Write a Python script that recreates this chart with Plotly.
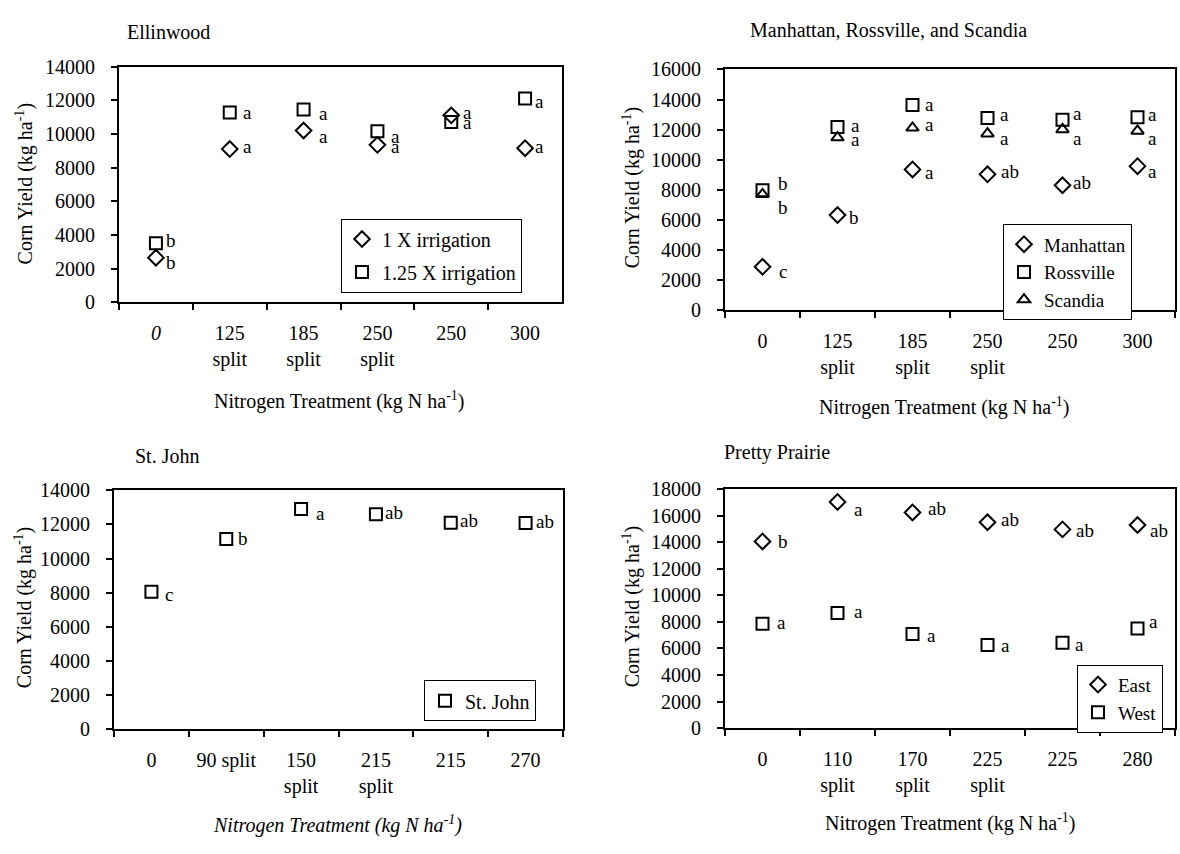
import plotly.graph_objects as go

FONT = "Liberation Serif"
W, H = 1180, 854

# ---------------- data ----------------
# Ellinwood
ell_cats = ["<i>0</i>", "125<br>split", "185<br>split", "250<br>split", "250", "300"]
ell_1x = [2650, 9100, 10200, 9350, 11100, 9150]
ell_125x = [3500, 11270, 11450, 10150, 10700, 12100]
ell_1x_lbl = ["b", "a", "a", "a", "a", "a"]
ell_125x_lbl = ["b", "a", "a", "a", "a", "a"]

# Manhattan, Rossville, Scandia
mrs_cats = ["0", "125<br>split", "185<br>split", "250<br>split", "250", "300"]
manhattan = [2880, 6320, 9350, 9030, 8300, 9570]
rossville = [7970, 12170, 13640, 12770, 12660, 12820]
scandia = [7700, 11470, 12120, 11730, 12010, 11910]
manhattan_lbl = ["c", "b", "a", "ab", "ab", "a"]
rossville_lbl = ["b", "a", "a", "a", "a", "a"]
scandia_lbl = ["b", "a", "a", "a", "a", "a"]

# St. John
sj_cats = ["0", "90 split", "150<br>split", "215<br>split", "215", "270"]
stjohn = [8050, 11150, 12900, 12600, 12100, 12080]
stjohn_lbl = ["c", "b", "a", "ab", "ab", "ab"]

# Pretty Prairie
pp_cats = ["0", "110<br>split", "170<br>split", "225<br>split", "225", "280"]
east = [14070, 17050, 16260, 15520, 14980, 15310]
west = [7870, 8680, 7090, 6260, 6440, 7510]
east_lbl = ["b", "a", "ab", "ab", "ab", "ab"]
west_lbl = ["a", "a", "a", "a", "a", "a"]

# ---------------- label offsets (px, dy positive = down) ----------------
ell_1x_off = [(15, 5), (18, -3), (20, 6), (18, 2), (16, -3), (14, -2)]
ell_125x_off = [(15, -3), (18, 0), (20, 4), (18, 5), (16, 0), (14, 3)]
man_off = [(20, 5), (16, 2), (17, 3), (22, -3), (19, -3), (15, 5)]
ros_off = [(20, -7), (18, -2), (17, 0), (17, -4), (15, -6), (15, -3)]
sca_off = [(20, 13), (18, 2), (17, -3), (17, 5), (15, 9), (15, 8)]
sj_off = [(18, 3), (17, 0), (19, 4), (18, -2), (18, -2), (19, -2)]
east_off = [(20, 0), (21, 8), (24, -4), (22, -3), (22, 1), (21, 5)]
west_off = [(19, -1), (21, -1), (19, 1), (18, 0), (17, 2), (16, -7)]

# ---------------- panel geometry (pixels) ----------------
# (left, right, top, bottom)
panels = {
    1: (119, 562, 57, 299),
    2: (725, 1175, 60, 307),
    3: (114, 563, 492, 737),
    4: (725, 1175, 491, 736),
}
yranges = {1: 14000, 2: 16000, 3: 14000, 4: 18000}


def px_x(p):
    return p / W


def px_y(p):
    return 1 - p / H


fig = go.Figure()


def axes(idx):
    return ("x" if idx == 1 else f"x{idx}", "y" if idx == 1 else f"y{idx}")


def add_series(idx, cats, vals, name, symbol, size, legend, group):
    xa, ya = axes(idx)
    fig.add_trace(go.Scatter(
        x=cats, y=vals, mode="markers", name=name,
        marker=dict(symbol=symbol, size=size, color="black",
                    line=dict(color="black", width=2)),
        xaxis=xa, yaxis=ya,
        legend=legend, legendgroup=group, showlegend=True,
        hoverinfo="x+y",
    ))


def add_labels(idx, vals, lbls, offs):
    xa, ya = axes(idx)
    for i, (v, t, (dx, dy)) in enumerate(zip(vals, lbls, offs)):
        fig.add_annotation(
            x=i, y=v, text=t, showarrow=False, xref=xa, yref=ya,
            xshift=dx, yshift=-dy,
            font=dict(family=FONT, size=19, color="black"),
        )


add_series(1, ell_cats, ell_1x, "1 X irrigation", "diamond-open", 12, "legend", "g1")
add_series(1, ell_cats, ell_125x, "1.25 X irrigation", "square-open", 12, "legend", "g2")
add_labels(1, ell_1x, ell_1x_lbl, ell_1x_off)
add_labels(1, ell_125x, ell_125x_lbl, ell_125x_off)

add_series(2, mrs_cats, manhattan, "Manhattan", "diamond-open", 12, "legend2", "m")
add_series(2, mrs_cats, rossville, "Rossville", "square-open", 12, "legend2", "m")
add_series(2, mrs_cats, scandia, "Scandia", "triangle-up-open", 11, "legend2", "m")
add_labels(2, manhattan, manhattan_lbl, man_off)
add_labels(2, rossville, rossville_lbl, ros_off)
add_labels(2, scandia, scandia_lbl, sca_off)

add_series(3, sj_cats, stjohn, "St. John", "square-open", 12, "legend3", "s")
add_labels(3, stjohn, stjohn_lbl, sj_off)

add_series(4, pp_cats, east, "East", "diamond-open", 12, "legend4", "p")
add_series(4, pp_cats, west, "West", "square-open", 12, "legend4", "p")
add_labels(4, east, east_lbl, east_off)
add_labels(4, west, west_lbl, west_off)

tickfont = dict(family=FONT, size=20, color="black")
cat_lists = {1: ell_cats, 2: mrs_cats, 3: sj_cats, 4: pp_cats}
layout = {}
for i, (l, r, t, b) in panels.items():
    xk = "xaxis" if i == 1 else f"xaxis{i}"
    yk = "yaxis" if i == 1 else f"yaxis{i}"
    layout[xk] = dict(
        domain=[px_x(l), px_x(r)], anchor="y" if i == 1 else f"y{i}",
        type="category", categoryorder="array", categoryarray=cat_lists[i],
        range=[-0.5, 5.5], tickson="boundaries", ticks="outside", ticklen=6,
        tickwidth=1.5, tickcolor="black", showline=True, linewidth=2,
        linecolor="black", mirror=True, showgrid=False, zeroline=False,
        tickfont=tickfont, ticklabelstandoff=12, fixedrange=True,
    )
    layout[yk] = dict(
        domain=[px_y(b), px_y(t)], anchor="x" if i == 1 else f"x{i}",
        range=[0, yranges[i]], dtick=2000, tick0=0, tickformat="d",
        ticks="outside", ticklen=6,
        tickwidth=1.5, tickcolor="black", showline=True, linewidth=2,
        linecolor="black", mirror=True, showgrid=False, zeroline=False,
        tickfont=tickfont, ticklabelstandoff=12, fixedrange=True,
    )

legend_common = dict(
    bgcolor="white", bordercolor="black", borderwidth=1,
    xanchor="left", yanchor="top", itemclick=False, itemdoubleclick=False,
)
lf20 = dict(family=FONT, size=20, color="black")
lf19 = dict(family=FONT, size=19, color="black")
layout["legend"] = dict(x=px_x(341), y=px_y(213), tracegroupgap=4, font=lf20, **legend_common)
layout["legend2"] = dict(x=px_x(1003), y=px_y(219), font=lf19, **legend_common)
layout["legend3"] = dict(x=px_x(424), y=px_y(687), font=lf20, **legend_common)
layout["legend4"] = dict(x=px_x(1077), y=px_y(671), font=lf19, **legend_common)

fig.update_layout(
    width=W, height=H, margin=dict(l=0, r=0, t=0, b=0),
    paper_bgcolor="white", plot_bgcolor="white",
    font=dict(family=FONT, size=20, color="black"),
    **layout,
)

# titles (panel + axis titles)
ytitle = "Corn Yield (kg ha<sup>-1</sup>)"
xtitle = "Nitrogen Treatment (kg N ha<sup>-1</sup>)"
texts = [
    ("Ellinwood", 168, 22, 0),
    ("Manhattan, Rossville, and Scandia", 888, 20, 0),
    ("St. John", 167, 457, 0),
    ("Pretty Prairie", 777, 453, 0),
    (ytitle, 24, 178, -90),
    (ytitle, 631, 182, -90),
    (ytitle, 23, 613, -90),
    (ytitle, 631, 612, -90),
    (xtitle, 339, 400, 0),
    (xtitle, 944, 406, 0),
    ("<i>" + xtitle + "</i>", 337, 835, 0),
    (xtitle, 950, 833, 0),
]
for txt, x, y, ang in texts:
    fig.add_annotation(
        x=px_x(x), y=px_y(y), xref="paper", yref="paper", text=txt,
        showarrow=False, textangle=ang, xanchor="center", yanchor="middle",
        font=dict(family=FONT, size=20, color="black"),
    )

fig.write_html(
    "out.html",
    config={"displayModeBar": False},
    post_script="document.body.style.margin='0';",
)
